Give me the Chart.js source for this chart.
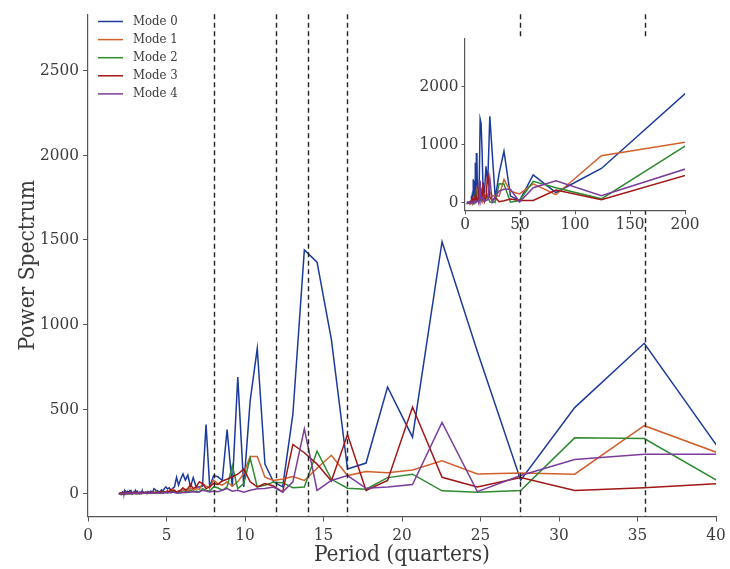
<!DOCTYPE html>
<html>
<head>
<meta charset="utf-8">
<script src="https://cdn.jsdelivr.net/npm/chart.js@4/dist/chart.umd.min.js"></script>
<style>
  html, body { margin: 0; padding: 0; background: #fff; }
  #wrap { position: relative; width: 730px; height: 569px; }
  #mainChart { position: absolute; left: 0; top: 0; }
  #insetChart { position: absolute; left: 405px; top: 25px; }
</style>
</head>
<body>
<div id="wrap">
  <canvas id="mainChart" width="730" height="569"></canvas>
  <canvas id="insetChart" width="295" height="215"></canvas>
</div>
<script>
// periods (quarters) of the spectral bins, longest first
const periods = [
  248, 124, 82.67, 62, 49.6, 41.33, 35.43, 31, 27.56, 24.8,
  22.55, 20.67, 19.08, 17.71, 16.53, 15.5, 14.59, 13.78, 13.05, 12.4,
  11.81, 11.27, 10.78, 10.33, 9.92, 9.54, 9.19, 8.86, 8.55, 8.27,
  8, 7.75, 7.52, 7.29, 7.09, 6.89, 6.7, 6.53, 6.36, 6.2,
  6.05, 5.9, 5.77, 5.64, 5.51, 5.39, 5.28, 5.17, 5.06, 4.96,
  4.86, 4.77, 4.68, 4.59, 4.51, 4.43, 4.35, 4.28, 4.2, 4.13,
  4.07, 4, 3.94, 3.88, 3.82, 3.76, 3.7, 3.65, 3.59, 3.54,
  3.49, 3.44, 3.4, 3.35, 3.31, 3.26, 3.22, 3.18, 3.14, 3.1,
  3.06, 3.02, 2.99, 2.95, 2.92, 2.88, 2.85, 2.82, 2.79, 2.76,
  2.73, 2.7, 2.67, 2.64, 2.61, 2.58, 2.56, 2.53, 2.51, 2.48,
  2.46, 2.43, 2.41, 2.38, 2.36, 2.34, 2.32, 2.3, 2.28, 2.25,
  2.23, 2.21, 2.19, 2.18, 2.16, 2.14, 2.12, 2.1, 2.08, 2.07,
  2.05, 2.03, 2.02, 2
];

const mode0 = [
  2690, 592, 178, 482, 40, 117, 889, 509, 80, 840,
  1490, 334, 631, 181, 146, 912, 1369, 1441, 470, 40,
  70, 175, 858, 550, 40, 689, 40, 379, 78, 100,
  107, 40, 408, 45, 40, 40, 95, 40, 110, 80,
  116, 85, 50, 97, 40, 30, 20, 35, 28, 40,
  30, 15, 22, 10, 6, 18, 12, 25, 30, 12,
  8, 15, 10, 5, 12, 8, 4, 10, 6, 9,
  12, 16, 8, 5, 10, 7, 4, 9, 12, 8,
  15, 20, 10, 6, 4, 8, 5, 3, 7, 10,
  6, 12, 8, 14, 10, 16, 8, 5, 9, 4,
  6, 10, 14, 8, 12, 18, 9, 5, 3, 6,
  4, 8, 5, 3, 6, 4, 2, 5, 3, 2,
  4, 2, 3, 1
];
const mode1 = [
  1190, 813, 140, 327, 155, 200, 402, 115, 122, 117,
  194, 140, 124, 131, 107, 227, 150, 78, 101, 87,
  78, 97, 220, 220, 120, 70, 45, 70, 50, 60,
  80, 35, 45, 60, 25, 30, 20, 35, 15, 25,
  20, 10, 15, 10, 15, 25, 12, 8, 18, 10,
  6, 12, 5, 9, 4, 7, 10, 5, 3, 6,
  4, 8, 3, 5, 2, 6, 4, 3, 5, 2,
  4, 6, 3, 2, 5, 3, 4, 2, 3, 5,
  3, 2, 4, 2, 3, 5, 2, 3, 2, 4,
  3, 2, 3, 2, 4, 3, 2, 1, 3, 2,
  2, 3, 1, 2, 3, 2, 1, 2, 3, 1,
  2, 1, 2, 1, 1, 2, 1, 1, 2, 1,
  1, 1, 2, 1
];
const mode2 = [
  1550, 69, 261, 372, 40, 11, 326, 330, 19, 8,
  17, 115, 95, 26, 32, 85, 252, 39, 35, 65,
  68, 50, 40, 210, 60, 30, 165, 40, 20, 35,
  40, 15, 20, 30, 10, 15, 10, 20, 8, 12,
  6, 15, 5, 10, 8, 12, 20, 6, 10, 4,
  8, 14, 5, 3, 7, 4, 2, 6, 9, 3,
  5, 2, 4, 7, 3, 2, 5, 3, 2, 4,
  6, 2, 3, 1, 4, 2, 3, 5, 2, 3,
  2, 4, 1, 3, 2, 2, 4, 1, 2, 3,
  1, 2, 4, 2, 1, 3, 2, 1, 2, 1,
  2, 1, 3, 1, 2, 1, 1, 2, 1, 2,
  1, 1, 2, 1, 1, 1, 2, 1, 1, 1,
  1, 2, 1, 1
];
const mode3 = [
  735, 53, 220, 41, 40, 65, 35, 19, 95, 39,
  97, 512, 78, 19, 350, 75, 175, 242, 291, 9,
  45, 60, 40, 70, 146, 115, 100, 85, 75, 55,
  60, 40, 30, 60, 70, 40, 30, 55, 30, 20,
  35, 20, 15, 10, 20, 12, 25, 10, 15, 8,
  12, 5, 10, 14, 6, 9, 4, 7, 5, 10,
  6, 4, 8, 3, 5, 9, 4, 6, 3, 5,
  8, 4, 3, 6, 4, 2, 5, 7, 3, 4,
  6, 8, 3, 5, 2, 4, 6, 3, 2, 5,
  4, 7, 3, 2, 4, 6, 3, 2, 4, 3,
  5, 2, 3, 4, 2, 6, 3, 2, 4, 2,
  3, 1, 2, 4, 2, 1, 3, 2, 1, 2,
  1, 2, 1, 1
];
const mode4 = [
  870, 124, 380, 261, 15, 233, 233, 202, 107, 12,
  421, 54, 40, 32, 107, 78, 19, 383, 70, 9,
  39, 30, 29, 20, 9, 20, 15, 30, 20, 12,
  15, 10, 15, 20, 10, 8, 12, 8, 10, 5,
  8, 4, 6, 3, 6, 10, 4, 8, 3, 12,
  5, 3, 7, 2, 5, 8, 3, 4, 2, 6,
  3, 5, 2, 4, 6, 2, 3, 1, 4, 3,
  2, 5, 2, 3, 1, 4, 2, 3, 5, 2,
  3, 1, 4, 2, 2, 3, 1, 2, 4, 2,
  1, 3, 2, 1, 2, 3, 1, 2, 1, 2,
  1, 2, 3, 1, 2, 1, 2, 1, 1, 2,
  1, 1, 2, 1, 1, 2, 1, 1, 1, 2,
  1, 1, 1, 1
];

const seriesNames = ["Mode 0", "Mode 1", "Mode 2", "Mode 3", "Mode 4"];
const seriesValues = [mode0, mode1, mode2, mode3, mode4];
const seriesColors = ["#1b3a9c", "#d2602c", "#2e8a30", "#a11616", "#7a3d9c"];

// reference periods marked with dashed lines
const markerPeriods = [8, 12, 14, 16.5, 27.5, 35.5];

const xTicksMain = [0, 5, 10, 15, 20, 25, 30, 35, 40];
const yTicksMain = [0, 500, 1000, 1500, 2000, 2500];
const xTicksInset = [0, 50, 100, 150, 200];
const yTicksInset = [0, 1000, 2000];
const yMin = -135, yMax = 2835;

const FONT = "'DejaVu Serif Condensed', 'DejaVu Serif', serif";
const TEXT = "#3a3a3a";
const AXIS = "#555";

function makeDatasets() {
    return seriesValues.map((vals, i) => ({
        label: seriesNames[i],
        data: periods.map((p, j) => ({ x: p, y: vals[j] })),
        borderColor: seriesColors[i],
        backgroundColor: seriesColors[i],
        borderWidth: 1.5,
        pointRadius: 0,
        tension: 0,
        fill: false,
        order: seriesNames.length - i,
    }));
}

function fixedTicks(list) {
    return (scale) => { scale.ticks = list.map(v => ({ value: v })); };
}

const plainNumber = (v) => String(v);

const dashedLines = {
    id: "dashedLines",
    afterDatasetsDraw(chart) {
        const { ctx, chartArea, scales } = chart;
        ctx.save();
        ctx.strokeStyle = "#222";
        ctx.lineWidth = 1.4;
        ctx.setLineDash([5, 3.5]);
        markerPeriods.forEach(p => {
            const x = Math.round(scales.x.getPixelForValue(p)) + 0.5;
            ctx.beginPath();
            ctx.moveTo(x, chartArea.top);
            ctx.lineTo(x, chartArea.bottom);
            ctx.stroke();
        });
        ctx.restore();
    },
};

const cornerLegend = {
    id: "cornerLegend",
    afterDraw(chart) {
        const ctx = chart.ctx;
        ctx.save();
        ctx.font = "13px " + FONT;
        ctx.textBaseline = "middle";
        seriesNames.forEach((name, i) => {
            const y = 21.5 + i * 18.1;
            ctx.strokeStyle = seriesColors[i];
            ctx.lineWidth = 1.5;
            ctx.beginPath();
            ctx.moveTo(98, y);
            ctx.lineTo(123, y);
            ctx.stroke();
            ctx.fillStyle = TEXT;
            ctx.fillText(name, 133, y);
        });
        ctx.restore();
    },
};

const whitePlot = {
    id: "whitePlot",
    beforeDraw(chart) {
        const { ctx, chartArea } = chart;
        ctx.save();
        ctx.fillStyle = "#fff";
        ctx.fillRect(chartArea.left, chartArea.top,
            chartArea.right - chartArea.left, chartArea.bottom - chartArea.top);
        ctx.restore();
    },
};

const tickFont = { family: FONT, size: 17 };
const titleFont = { family: FONT, size: 22.5 };

new Chart(document.getElementById("mainChart"), {
    type: "line",
    data: { datasets: makeDatasets() },
    options: {
        responsive: false,
        animation: false,
        layout: { padding: { left: 0, top: 7, right: 14, bottom: 0 } },
        plugins: { legend: { display: false }, tooltip: { enabled: false } },
        scales: {
            x: {
                type: "linear",
                min: 0,
                max: 40,
                afterBuildTicks: fixedTicks(xTicksMain),
                afterFit: (s) => { s.height = 52.5; },
                ticks: { font: tickFont, color: TEXT, padding: 4, maxRotation: 0, callback: plainNumber },
                grid: { drawOnChartArea: false, tickLength: 5, color: AXIS },
                border: { color: AXIS, width: 1.2 },
                title: {
                    display: true,
                    text: "Period (quarters)",
                    font: titleFont,
                    color: TEXT,
                    padding: { top: 4, bottom: 0 },
                },
            },
            y: {
                min: yMin,
                max: yMax,
                afterBuildTicks: fixedTicks(yTicksMain),
                afterFit: (s) => { s.width = 88; },
                ticks: { font: tickFont, color: TEXT, padding: 4, callback: plainNumber },
                grid: { drawOnChartArea: false, tickLength: 5, color: AXIS },
                border: { color: AXIS, width: 1.2 },
                title: {
                    display: true,
                    text: "Power Spectrum",
                    font: titleFont,
                    color: TEXT,
                    padding: { top: 15, bottom: 0 },
                },
            },
        },
    },
    plugins: [dashedLines, cornerLegend],
});

// zoomed-out view over the full period range
new Chart(document.getElementById("insetChart"), {
    type: "line",
    data: { datasets: makeDatasets() },
    options: {
        responsive: false,
        animation: false,
        layout: { padding: { left: 0, top: 6.7, right: 15, bottom: 0 } },
        plugins: { legend: { display: false }, tooltip: { enabled: false } },
        scales: {
            x: {
                type: "linear",
                min: 0,
                max: 200,
                afterBuildTicks: fixedTicks(xTicksInset),
                afterFit: (s) => { s.height = 29.3; },
                ticks: { font: tickFont, color: TEXT, padding: 0, maxRotation: 0, callback: plainNumber },
                grid: { drawOnChartArea: false, tickLength: 3.5, color: AXIS },
                border: { color: AXIS, width: 1.2 },
            },
            y: {
                min: yMin,
                max: yMax,
                afterBuildTicks: fixedTicks(yTicksInset),
                afterFit: (s) => { s.width = 60; },
                ticks: { font: tickFont, color: TEXT, padding: 3, callback: plainNumber },
                grid: { drawOnChartArea: false, tickLength: 3.5, color: AXIS },
                border: { color: AXIS, width: 1.2 },
            },
        },
    },
    plugins: [whitePlot],
});
</script>
</body>
</html>
